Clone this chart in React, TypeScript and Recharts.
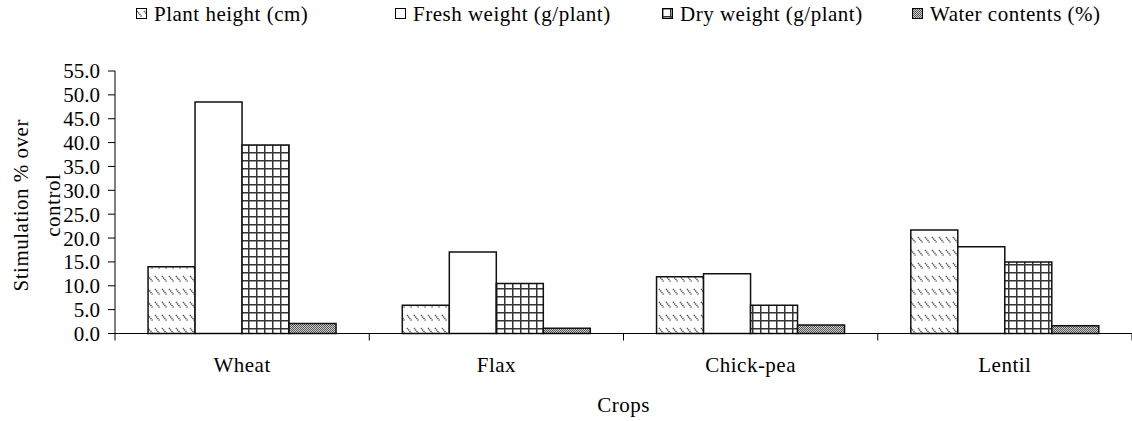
import React from "react";
import { BarChart, Bar, XAxis, YAxis, Legend } from "recharts";

const categories = ["Wheat", "Flax", "Chick-pea", "Lentil"];
const plantHeight = [14.0, 5.9, 11.9, 21.7];
const freshWeight = [48.5, 17.1, 12.5, 18.2];
const dryWeight = [39.5, 10.5, 5.9, 15.0];
const waterContents = [2.1, 1.1, 1.8, 1.6];
const yTicks = [0, 5, 10, 15, 20, 25, 30, 35, 40, 45, 50, 55];

const seriesNames = ["Plant height (cm)", "Fresh weight (g/plant)", "Dry weight (g/plant)", "Water contents (%)"];
const seriesKeys = ["plant", "fresh", "dry", "water"];
const seriesFills = ["url(#hatch)", "#fff", "url(#grid)", "url(#dots)"];

const data = categories.map((crop, i) => ({
  crop,
  plant: plantHeight[i],
  fresh: freshWeight[i],
  dry: dryWeight[i],
  water: waterContents[i],
}));

const W = 1132;
const H = 421;
const FONT = '"Liberation Serif", "Times New Roman", serif';
const FS = 21;
const LS = 0.5;
const Y_AXIS_W = 115;
const MARGIN = { top: 43, right: 0, left: 0, bottom: 27.5 };
const BAND = (W - MARGIN.left - MARGIN.right - Y_AXIS_W) / categories.length;
// legend slot widths, in px
const LEGEND_LEFT = 136;
const LEGEND_SLOTS = [259, 267, 250, 220];

function CropTick(props: any) {
  const { x, y, payload, index } = props;
  const left = x - BAND / 2;
  return (
    <g>
      <line x1={left} y1={y} x2={left} y2={y + 7} stroke="#000" />
      {index === categories.length - 1 && (
        <line x1={x + BAND / 2} y1={y} x2={x + BAND / 2} y2={y + 7} stroke="#000" />
      )}
      <text x={x} y={y + 38} textAnchor="middle" fontFamily={FONT} fontSize={FS} letterSpacing={LS} fill="#000">
        {payload.value}
      </text>
    </g>
  );
}

function LegendBox({ fill }: { fill: string }) {
  return (
    <svg width={12} height={12} style={{ marginRight: 6 }}>
      <rect x={0.5} y={0.5} width={10} height={10} fill={fill} stroke="#000" />
    </svg>
  );
}

function ChartLegend() {
  return (
    <div
      style={{
        height: 28,
        display: "flex",
        alignItems: "center",
        paddingLeft: LEGEND_LEFT,
        fontFamily: FONT,
        fontSize: FS,
        letterSpacing: LS,
        color: "#000",
      }}
    >
      {seriesNames.map((name, i) => (
        <div
          key={name}
          style={{ display: "flex", alignItems: "center", whiteSpace: "nowrap", width: LEGEND_SLOTS[i], flex: "none" }}
        >
          <LegendBox fill={seriesFills[i]} />
          <span>{name}</span>
        </div>
      ))}
    </div>
  );
}

export default function App() {
  return (
    <div style={{ position: "absolute", left: 0, top: 0, width: W, height: H, background: "#fff" }}>
      <BarChart width={W} height={H} data={data} margin={MARGIN} barCategoryGap="13%" barGap={0}>
        <defs>
          <pattern id="hatch" width={7} height={13} patternUnits="userSpaceOnUse">
            <rect width={7} height={13} fill="#fff" />
            <line x1={1} y1={3} x2={5.5} y2={8.5} stroke="#555" strokeWidth={1.5} strokeDasharray="1.3 0.7" />
          </pattern>
          <pattern id="grid" width={8} height={8} patternUnits="userSpaceOnUse">
            <rect width={8} height={8} fill="#fff" />
            <path d="M0 0.75 H8 M0.75 0 V8" stroke="#333" strokeWidth={1.5} />
          </pattern>
          <pattern id="dots" width={2} height={2} patternUnits="userSpaceOnUse">
            <rect width={2} height={2} fill="#ccc" />
            <rect width={1} height={1} fill="#555" />
            <rect x={1} y={1} width={1} height={1} fill="#555" />
          </pattern>
        </defs>
        <Legend
          verticalAlign="top"
          align="left"
          wrapperStyle={{ top: 0, left: 0, width: W }}
          content={() => <ChartLegend />}
        />
        <XAxis
          dataKey="crop"
          height={60}
          interval={0}
          tickLine={false}
          tickSize={0}
          tickMargin={0}
          axisLine={{ stroke: "#000" }}
          tick={<CropTick />}
          label={({ viewBox }: any) => (
            <text
              x={viewBox.x + viewBox.width / 2}
              y={viewBox.y + 78}
              textAnchor="middle"
              fontFamily={FONT}
              fontSize={FS}
              letterSpacing={LS}
              fill="#000"
            >
              Crops
            </text>
          )}
        />
        <YAxis
          width={Y_AXIS_W}
          domain={[0, 55]}
          ticks={yTicks}
          interval={0}
          tickFormatter={(v: number) => v.toFixed(1)}
          tick={{ fill: "#000", fontSize: FS, fontFamily: FONT }}
          tickSize={7}
          tickMargin={8}
          axisLine={{ stroke: "#000" }}
          tickLine={{ stroke: "#000" }}
          label={({ viewBox }: any) => {
            const cy = viewBox.y + viewBox.height / 2 + 3;
            return (
              <g fontFamily={FONT} fontSize={FS} letterSpacing={LS} fill="#000">
                <text x={28} y={cy} textAnchor="middle" transform={`rotate(-90, 28, ${cy})`}>
                  Stimulation % over
                </text>
                <text x={60} y={cy} textAnchor="middle" transform={`rotate(-90, 60, ${cy})`}>
                  control
                </text>
              </g>
            );
          }}
        />
        {seriesKeys.map((k, i) => (
          <Bar
            key={k}
            dataKey={k}
            name={seriesNames[i]}
            fill={seriesFills[i]}
            stroke="#111"
            strokeWidth={1.5}
            isAnimationActive={false}
          />
        ))}
      </BarChart>
    </div>
  );
}
